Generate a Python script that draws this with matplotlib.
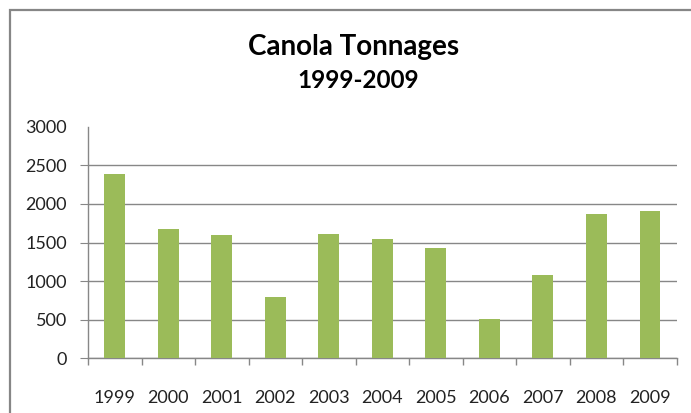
import matplotlib
matplotlib.use("Agg")
import matplotlib.pyplot as plt
from matplotlib.patches import Rectangle
import numpy as np

years = ["1999", "2000", "2001", "2002", "2003", "2004", "2005", "2006", "2007", "2008", "2009"]
tonnages = [2390, 1670, 1600, 790, 1615, 1540, 1435, 505, 1075, 1875, 1910]
y_ticks = [0, 500, 1000, 1500, 2000, 2500, 3000]

W, H = 691, 413
fig = plt.figure(figsize=(W / 100, H / 100), dpi=100)
plt.rcParams['font.family'] = ['Lato', 'DejaVu Sans']

ax = fig.add_axes([88 / W, 1 - 358.3 / H, (676.7 - 88) / W, (358.3 - 126.7) / H])
x = np.arange(len(years))
ax.bar(x, tonnages, width=0.39, color="#9BBB59", zorder=3)

ax.set_xlim(-0.5, len(years) - 0.5)
ax.set_ylim(0, 3000)
ax.set_yticks(y_ticks)
ax.set_yticklabels([str(v) for v in y_ticks], fontsize=13, color="#222222")
ax.set_xticks(x)
ax.set_xticklabels(years, fontsize=13, color="#222222")
ax.set_xticks(np.arange(-0.5, len(years)), minor=True)

gcol = "#878787"
ax.grid(axis="y", color=gcol, linewidth=1.0, zorder=0)
for sp in ["top", "right"]:
    ax.spines[sp].set_visible(False)
for sp in ["left", "bottom"]:
    ax.spines[sp].set_color(gcol)
    ax.spines[sp].set_linewidth(1.0)

ax.tick_params(axis="y", which="major", length=6, color=gcol, pad=9)
ax.tick_params(axis="x", which="major", length=0, pad=23)
ax.tick_params(axis="x", which="minor", length=5, color=gcol, width=1.0)

t = ax.yaxis.get_major_ticks()[-1]
t.gridline.set_visible(False)
t.tick1line.set_visible(False)

fig.text(353.7 / W, 1 - 55 / H, "Canola Tonnages", ha="center", va="baseline",
         fontsize=20, fontweight="bold", color="#000000")
fig.text(357.8 / W, 1 - 88.3 / H, "1999-2009", ha="center", va="baseline",
         fontsize=17.5, fontweight="bold", color="#000000")

border = Rectangle((10 / W, -0.2), 1.2, 1.2 - 10 / H, transform=fig.transFigure,
                   fill=False, edgecolor="#868686", linewidth=1.6, clip_on=False)
fig.patches.append(border)

fig.savefig("out.png", dpi=100)
